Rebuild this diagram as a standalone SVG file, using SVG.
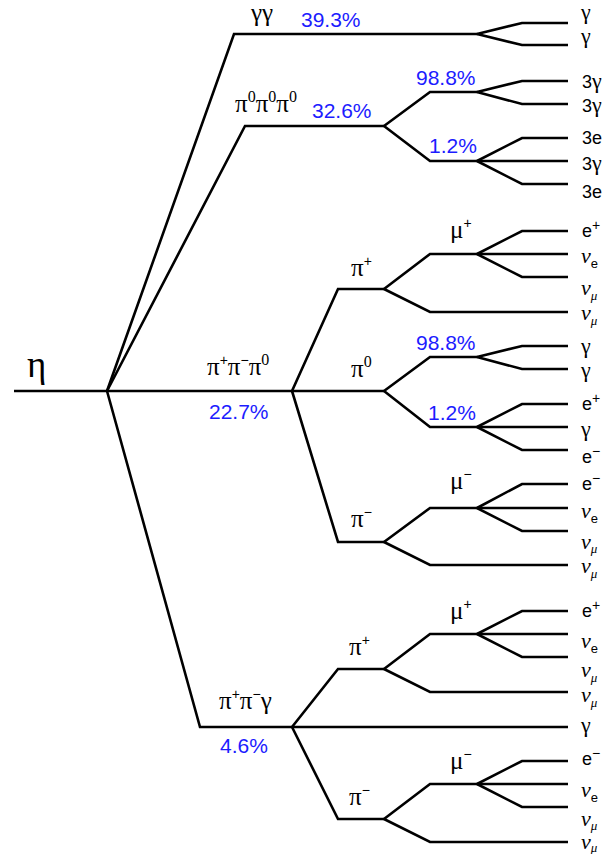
<svg xmlns="http://www.w3.org/2000/svg" width="615" height="854" viewBox="0 0 615 854">
<style>
.ln{fill:none;stroke:#000;stroke-width:2.6;stroke-linejoin:miter}
.g{font-family:"Liberation Serif","Times New Roman",serif;font-size:25px;fill:#000}
.eta{font-family:"Liberation Serif","Times New Roman",serif;font-size:37px;fill:#000}
.pct{font-family:"Liberation Sans",Arial,sans-serif;font-size:21px;fill:#1c1cff}
.lf{font-family:"Liberation Sans",Arial,sans-serif;font-size:18px;fill:#000}
.lg{font-family:"Liberation Serif","Times New Roman",serif;font-size:22px;fill:#000}
.nu{font-family:"Liberation Serif","Times New Roman",serif;font-size:22px;font-style:italic;fill:#000}
.sps{font-family:"Liberation Sans",Arial,sans-serif;font-size:14px}
.spr{font-family:"Liberation Serif","Times New Roman",serif;font-size:16px}
.sbe{font-family:"Liberation Sans",Arial,sans-serif;font-size:13px;font-style:normal}
.sbm{font-family:"Liberation Serif","Times New Roman",serif;font-size:13px;font-style:italic}
</style>
<rect width="615" height="854" fill="#fff"/>
<g id="connectors">
<polyline class="ln" points="14,391 107,391 292,391 384,391"/>
<polyline class="ln" points="107,391 234,34 477,34"/>
<polyline class="ln" points="107,391 245,126 384,126"/>
<polyline class="ln" points="107,391 200,727 568,727"/>
<polyline class="ln" points="477,34 522,23 568,23"/>
<polyline class="ln" points="477,34 522,45 568,45"/>
<polyline class="ln" points="384,126 430,92 477,92"/>
<polyline class="ln" points="384,126 430,161 568,161"/>
<polyline class="ln" points="477,92 522,81 568,81"/>
<polyline class="ln" points="477,92 522,104 568,104"/>
<polyline class="ln" points="477,161 522,138 568,138"/>
<polyline class="ln" points="477,161 522,184 568,184"/>
<polyline class="ln" points="292,391 338,289 384,289"/>
<polyline class="ln" points="292,391 338,542 384,542"/>
<polyline class="ln" points="384,289 430,254 568,254"/>
<polyline class="ln" points="384,289 430,312 568,312"/>
<polyline class="ln" points="477,254 522,231 568,231"/>
<polyline class="ln" points="477,254 522,277 568,277"/>
<polyline class="ln" points="384,391 430,357 477,357"/>
<polyline class="ln" points="384,391 430,427 568,427"/>
<polyline class="ln" points="477,357 522,346 568,346"/>
<polyline class="ln" points="477,357 522,369 568,369"/>
<polyline class="ln" points="477,427 522,404 568,404"/>
<polyline class="ln" points="477,427 522,450 568,450"/>
<polyline class="ln" points="384,542 430,508 568,508"/>
<polyline class="ln" points="384,542 430,565 568,565"/>
<polyline class="ln" points="477,508 522,484 568,484"/>
<polyline class="ln" points="477,508 522,531 568,531"/>
<polyline class="ln" points="292,727 338,669 384,669"/>
<polyline class="ln" points="292,727 338,819 384,819"/>
<polyline class="ln" points="384,669 430,634 568,634"/>
<polyline class="ln" points="384,669 430,692 568,692"/>
<polyline class="ln" points="477,634 522,611 568,611"/>
<polyline class="ln" points="477,634 522,657 568,657"/>
<polyline class="ln" points="384,819 430,784 568,784"/>
<polyline class="ln" points="384,819 430,842 568,842"/>
<polyline class="ln" points="477,784 522,761 568,761"/>
<polyline class="ln" points="477,784 522,807 568,807"/>
</g>
<g id="eta"><text class="eta" x="27" y="377">η</text></g>
<g id="gg">
<text class="g" x="251" y="21">γγ</text>
<text class="pct" x="301" y="27">39.3%</text>
<text class="lg" x="581" y="19">γ</text>
<text class="lg" x="581" y="43">γ</text>
</g>
<g id="p0p0p0">
<text class="g" x="235" y="112">π<tspan class="spr" dy="-10">0</tspan><tspan dy="10">π</tspan><tspan class="spr" dy="-10">0</tspan><tspan dy="10">π</tspan><tspan class="spr" dy="-10">0</tspan></text>
<text class="pct" x="312" y="118">32.6%</text>
</g>
<g id="p0p0p0-a">
<text class="pct" x="416" y="85">98.8%</text>
<text class="lf" x="582" y="88">3<tspan class="lg">γ</tspan></text>
<text class="lf" x="582" y="112">3<tspan class="lg">γ</tspan></text>
</g>
<g id="p0p0p0-b">
<text class="pct" x="429" y="153">1.2%</text>
<text class="lf" x="582" y="144">3e</text>
<text class="lf" x="582" y="170">3<tspan class="lg">γ</tspan></text>
<text class="lf" x="582" y="198">3e</text>
</g>
<g id="ppp0">
<text class="g" x="207" y="375">π<tspan class="sps" dy="-10">+</tspan><tspan dy="10">π</tspan><tspan class="sps" dy="-10">−</tspan><tspan dy="10">π</tspan><tspan class="spr" dy="-10">0</tspan></text>
<text class="pct" x="209" y="419">22.7%</text>
</g>
<g id="ppp0-pip">
<text class="g" x="351" y="276">π<tspan class="sps" dy="-10">+</tspan></text>
<text class="nu" x="581" y="320">ν<tspan class="sbm" dy="5">μ</tspan></text>
</g>
<g id="ppp0-mup">
<text class="g" x="450" y="238">μ<tspan class="sps" dy="-10">+</tspan></text>
<text class="lf" x="582" y="237">e<tspan class="sps" dy="-7">+</tspan></text>
<text class="nu" x="581" y="263">ν<tspan class="sbe" dy="5">e</tspan></text>
<text class="nu" x="581" y="295">ν<tspan class="sbm" dy="5">μ</tspan></text>
</g>
<g id="ppp0-pi0">
<text class="g" x="351" y="377">π<tspan class="spr" dy="-10">0</tspan></text>
</g>
<g id="ppp0-pi0-a">
<text class="pct" x="416" y="350">98.8%</text>
<text class="lg" x="581" y="353">γ</text>
<text class="lg" x="581" y="377">γ</text>
</g>
<g id="ppp0-pi0-b">
<text class="pct" x="428" y="420">1.2%</text>
<text class="lf" x="582" y="410">e<tspan class="sps" dy="-7">+</tspan></text>
<text class="lg" x="581" y="436">γ</text>
<text class="lf" x="582" y="463">e<tspan class="sps" dy="-7">−</tspan></text>
</g>
<g id="ppp0-pim">
<text class="g" x="351" y="527">π<tspan class="sps" dy="-10">−</tspan></text>
<text class="nu" x="581" y="573">ν<tspan class="sbm" dy="5">μ</tspan></text>
</g>
<g id="ppp0-mum">
<text class="g" x="450" y="489">μ<tspan class="sps" dy="-10">−</tspan></text>
<text class="lf" x="582" y="490">e<tspan class="sps" dy="-7">−</tspan></text>
<text class="nu" x="581" y="518">ν<tspan class="sbe" dy="5">e</tspan></text>
<text class="nu" x="581" y="549">ν<tspan class="sbm" dy="4">μ</tspan></text>
</g>
<g id="ppg">
<text class="g" x="219" y="709">π<tspan class="sps" dy="-10">+</tspan><tspan dy="10">π</tspan><tspan class="sps" dy="-10">−</tspan><tspan dy="10">γ</tspan></text>
<text class="pct" x="220" y="753">4.6%</text>
<text class="lg" x="581" y="732">γ</text>
</g>
<g id="ppg-pip">
<text class="g" x="349" y="655">π<tspan class="sps" dy="-10">+</tspan></text>
<text class="nu" x="581" y="702">ν<tspan class="sbm" dy="5">μ</tspan></text>
</g>
<g id="ppg-mup">
<text class="g" x="450" y="619">μ<tspan class="sps" dy="-10">+</tspan></text>
<text class="lf" x="582" y="617">e<tspan class="sps" dy="-7">+</tspan></text>
<text class="nu" x="581" y="648">ν<tspan class="sbe" dy="5">e</tspan></text>
<text class="nu" x="581" y="677">ν<tspan class="sbm" dy="5">μ</tspan></text>
</g>
<g id="ppg-pim">
<text class="g" x="349" y="805">π<tspan class="sps" dy="-10">−</tspan></text>
<text class="nu" x="581" y="849">ν<tspan class="sbm" dy="3">μ</tspan></text>
</g>
<g id="ppg-mum">
<text class="g" x="450" y="769">μ<tspan class="sps" dy="-10">−</tspan></text>
<text class="lf" x="582" y="765">e<tspan class="sps" dy="-7">−</tspan></text>
<text class="nu" x="581" y="797">ν<tspan class="sbe" dy="5">e</tspan></text>
<text class="nu" x="581" y="826">ν<tspan class="sbm" dy="4">μ</tspan></text>
</g>
</svg>
